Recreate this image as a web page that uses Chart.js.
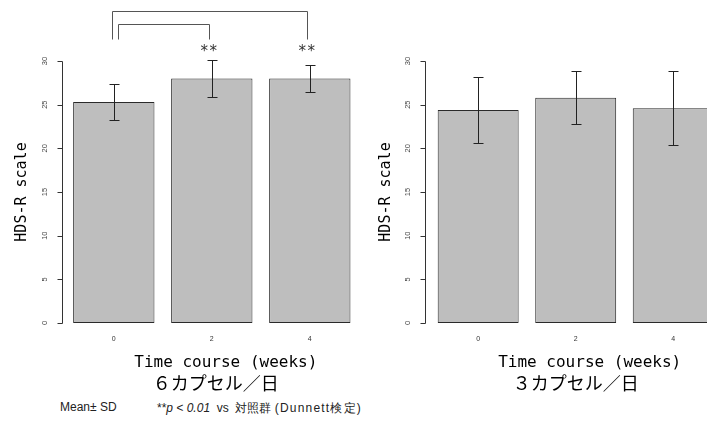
<!DOCTYPE html>
<html>
<head>
<meta charset="utf-8">
<script src="https://cdn.jsdelivr.net/npm/chart.js@4"></script>
<style>
    body { margin: 0; background: #fff; }
    #wrap { position: relative; width: 707px; height: 443px; overflow: hidden; }
    #chart6 { position: absolute; left: 0; top: 0; }
    #chart3 { position: absolute; left: 360px; top: 0; }
    .note { position: absolute; top: 400px; font: 12px 'Liberation Sans', Arial, sans-serif; color: #222; white-space: pre; }
    .wide { letter-spacing: 1.2px; }
</style>
</head>
<body>
<div id="wrap">
    <canvas id="chart6" width="360" height="400"></canvas>
    <canvas id="chart3" width="370" height="400"></canvas>
    <div class="note" style="left:60px">Mean± SD</div>
    <div class="note" style="left:157px">**<i>p &lt; 0.01</i>  vs  対照群 <span class="wide">(Dunnett検定)</span></div>
</div>
<script>
const weeks = ['0', '2', '4'];
const yTicks = [0, 5, 10, 15, 20, 25, 30];

// 6 capsules / day
const mean6 = [25.3, 28.0, 28.0];
const sd6 = [2.05, 2.15, 1.5];
// 3 capsules / day
const mean3 = [24.4, 25.8, 24.6];
const sd3 = [3.8, 3.05, 4.2];

// Dunnett comparisons vs week 0 (6 capsule panel only)
const pairs6 = [[0, 2], [0, 1]];
const stars6 = ['', '**', '**'];

const rStyle = {
    id: 'rStyle',
    afterDraw(chart, args, o) {
        const { ctx, chartArea, scales: { x, y } } = chart;
        const ax = Math.round(chartArea.left - o.axisGap) + 0.5;
        const midX = (chartArea.left + chartArea.right) / 2;
        ctx.save();
        ctx.strokeStyle = '#333';
        ctx.lineWidth = 1;

        // y axis, R style
        ctx.beginPath();
        ctx.moveTo(ax, Math.round(y.getPixelForValue(0)) + 0.5);
        ctx.lineTo(ax, Math.round(y.getPixelForValue(30)) + 0.5);
        yTicks.forEach(v => {
            const py = Math.round(y.getPixelForValue(v)) + 0.5;
            ctx.moveTo(ax - 5, py);
            ctx.lineTo(ax, py);
        });
        ctx.stroke();

        ctx.fillStyle = '#444';
        ctx.font = '7.5px "Liberation Sans"';
        ctx.textAlign = 'center';
        ctx.textBaseline = 'middle';
        yTicks.forEach(v => {
            ctx.save();
            ctx.translate(ax - 18, y.getPixelForValue(v));
            ctx.rotate(-Math.PI / 2);
            ctx.fillText(String(v), 0, 0);
            ctx.restore();
        });

        // error bars
        const ds = chart.data.datasets[0];
        const meta = chart.getDatasetMeta(0);
        ctx.strokeStyle = '#222';
        ctx.beginPath();
        ds.data.forEach((m, i) => {
            const px = Math.round(meta.data[i].x) + 0.5;
            const top = Math.round(y.getPixelForValue(m + ds.sd[i])) + 0.5;
            const bot = Math.round(y.getPixelForValue(m - ds.sd[i])) + 0.5;
            ctx.moveTo(px, top); ctx.lineTo(px, bot);
            ctx.moveTo(px - 5, top); ctx.lineTo(px + 5, top);
            ctx.moveTo(px - 5, bot); ctx.lineTo(px + 5, bot);
        });
        ctx.stroke();

        // x axis title and panel caption
        ctx.fillStyle = '#000';
        ctx.font = '16px "DejaVu Sans Mono"';
        ctx.fillText('Time course (weeks)', midX + 14, 363);
        ctx.font = '18px "Noto Sans CJK JP"';
        ctx.fillText(o.caption, midX + o.captionShift, 383);

        // significance brackets
        if (o.pairs) {
            ctx.strokeStyle = '#555';
            const legBot = Math.round(y.getPixelForValue(32.5)) + 0.5;
            const levels = [35.7, 34.2];
            const leftShift = [-2, 4];
            ctx.beginPath();
            o.pairs.forEach(([a, b], k) => {
                const xa = Math.round(x.getPixelForValue(a) + leftShift[k]) + 0.5;
                const xb = Math.round(x.getPixelForValue(b) - 3) + 0.5;
                const ty = Math.round(y.getPixelForValue(levels[k])) + 0.5;
                ctx.moveTo(xa, legBot); ctx.lineTo(xa, ty); ctx.lineTo(xb, ty); ctx.lineTo(xb, legBot);
            });
            ctx.stroke();
            ctx.fillStyle = '#333';
            ctx.font = '15px "DejaVu Sans Mono"';
            o.stars.forEach((s, i) => {
                if (s) ctx.fillText(s, x.getPixelForValue(i) - 3, y.getPixelForValue(31.0));
            });
        }
        ctx.restore();
    }
};

function makeChart(id, means, sds, yWidth, rightPad, extra) {
    return new Chart(document.getElementById(id), {
        type: 'bar',
        data: {
            labels: weeks,
            datasets: [{
                data: means,
                sd: sds,
                backgroundColor: '#bebebe',
                borderColor: '#2a2a2a',
                borderWidth: 1,
                borderSkipped: false,
                barPercentage: 0.83,
                categoryPercentage: 1
            }]
        },
        options: {
            responsive: false,
            animation: false,
            layout: { padding: { top: 61, right: rightPad, bottom: 44.6, left: 0 } },
            scales: {
                x: {
                    grid: { display: false, drawTicks: false },
                    border: { display: false },
                    ticks: { font: { family: 'Liberation Sans', size: 7 }, color: '#333', padding: 12, maxRotation: 0 },
                    afterFit: s => { s.height = 32.4; }
                },
                y: {
                    min: 0,
                    max: 30,
                    grid: { display: false },
                    border: { display: false },
                    ticks: { display: false },
                    title: {
                        display: true,
                        text: 'HDS-R scale',
                        color: '#000',
                        font: { family: 'DejaVu Sans Mono', size: 15, lineHeight: 1.2 },
                        padding: { top: extra.titlePad, bottom: 0 }
                    },
                    afterFit: s => { s.width = yWidth; }
                }
            },
            plugins: {
                legend: { display: false },
                tooltip: { enabled: false },
                rStyle: extra
            }
        },
        plugins: [rStyle]
    });
}

makeChart('chart6', mean6, sd6, 64.8, 1.2, {
    caption: '６カプセル／日', captionShift: 4, titlePad: 13.5, axisGap: 3, pairs: pairs6, stars: stars6
});
makeChart('chart3', mean3, sd3, 69.4, 8, {
    caption: '３カプセル／日', captionShift: 0, titlePad: 17.5, axisGap: 4.4
});
</script>
</body>
</html>
